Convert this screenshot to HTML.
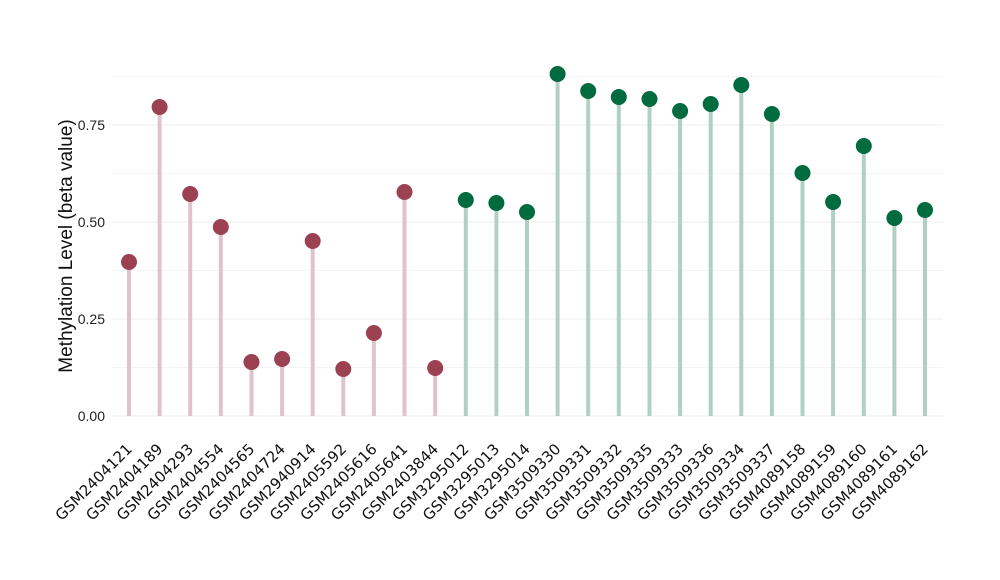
<!DOCTYPE html>
<html><head><style>body{margin:0;background:#fff}svg{display:block}</style></head>
<body>
<svg width="1000" height="580" xmlns="http://www.w3.org/2000/svg" font-family="Liberation Sans, DejaVu Sans, sans-serif">
<g stroke="#ececec" stroke-width="1">
<line x1="112" x2="943" y1="76.5" y2="76.5" stroke="#f4f4f4"/>
<line x1="112" x2="943" y1="125" y2="125"/>
<line x1="112" x2="943" y1="173.5" y2="173.5" stroke="#f4f4f4"/>
<line x1="112" x2="943" y1="222" y2="222"/>
<line x1="112" x2="943" y1="270.5" y2="270.5" stroke="#f4f4f4"/>
<line x1="112" x2="943" y1="319" y2="319"/>
<line x1="112" x2="943" y1="367.5" y2="367.5" stroke="#f4f4f4"/>
<line x1="112" x2="943" y1="416" y2="416"/>
</g>
<g font-size="14" fill="#222" text-anchor="end">
<text x="105" y="130">0.75</text>
<text x="105" y="227">0.50</text>
<text x="105" y="324">0.25</text>
<text x="105" y="421">0.00</text>
</g>
<text transform="translate(72,246) rotate(-90)" text-anchor="middle" font-size="19" fill="#111">Methylation Level (beta value)</text>
<g stroke="#dfc3cb" stroke-width="4">
<line x1="129" x2="129" y1="416" y2="262"/>
<line x1="159.6" x2="159.6" y1="416" y2="107"/>
<line x1="190.2" x2="190.2" y1="416" y2="194"/>
<line x1="220.8" x2="220.8" y1="416" y2="227"/>
<line x1="251.5" x2="251.5" y1="416" y2="362"/>
<line x1="282.1" x2="282.1" y1="416" y2="359"/>
<line x1="312.7" x2="312.7" y1="416" y2="241"/>
<line x1="343.3" x2="343.3" y1="416" y2="369"/>
<line x1="373.9" x2="373.9" y1="416" y2="333"/>
<line x1="404.5" x2="404.5" y1="416" y2="192"/>
<line x1="435.2" x2="435.2" y1="416" y2="368"/>
</g>
<g stroke="#b0d0c4" stroke-width="4">
<line x1="465.8" x2="465.8" y1="416" y2="200"/>
<line x1="496.4" x2="496.4" y1="416" y2="203"/>
<line x1="527" x2="527" y1="416" y2="212"/>
<line x1="557.6" x2="557.6" y1="416" y2="74"/>
<line x1="588.2" x2="588.2" y1="416" y2="91"/>
<line x1="618.8" x2="618.8" y1="416" y2="97"/>
<line x1="649.5" x2="649.5" y1="416" y2="99"/>
<line x1="680.1" x2="680.1" y1="416" y2="111"/>
<line x1="710.7" x2="710.7" y1="416" y2="104"/>
<line x1="741.3" x2="741.3" y1="416" y2="85"/>
<line x1="771.9" x2="771.9" y1="416" y2="114"/>
<line x1="802.5" x2="802.5" y1="416" y2="173"/>
<line x1="833.1" x2="833.1" y1="416" y2="202"/>
<line x1="863.8" x2="863.8" y1="416" y2="146"/>
<line x1="894.4" x2="894.4" y1="416" y2="218"/>
<line x1="925" x2="925" y1="416" y2="210"/>
</g>
<g fill="#9b4152">
<circle cx="129" cy="262" r="8"/>
<circle cx="159.6" cy="107" r="8"/>
<circle cx="190.2" cy="194" r="8"/>
<circle cx="220.8" cy="227" r="8"/>
<circle cx="251.5" cy="362" r="8"/>
<circle cx="282.1" cy="359" r="8"/>
<circle cx="312.7" cy="241" r="8"/>
<circle cx="343.3" cy="369" r="8"/>
<circle cx="373.9" cy="333" r="8"/>
<circle cx="404.5" cy="192" r="8"/>
<circle cx="435.2" cy="368" r="8"/>
</g>
<g fill="#006b3e">
<circle cx="465.8" cy="200" r="8"/>
<circle cx="496.4" cy="203" r="8"/>
<circle cx="527" cy="212" r="8"/>
<circle cx="557.6" cy="74" r="8"/>
<circle cx="588.2" cy="91" r="8"/>
<circle cx="618.8" cy="97" r="8"/>
<circle cx="649.5" cy="99" r="8"/>
<circle cx="680.1" cy="111" r="8"/>
<circle cx="710.7" cy="104" r="8"/>
<circle cx="741.3" cy="85" r="8"/>
<circle cx="771.9" cy="114" r="8"/>
<circle cx="802.5" cy="173" r="8"/>
<circle cx="833.1" cy="202" r="8"/>
<circle cx="863.8" cy="146" r="8"/>
<circle cx="894.4" cy="218" r="8"/>
<circle cx="925" cy="210" r="8"/>
</g>
<g font-size="15" fill="#111" text-anchor="end" font-family="DejaVu Sans, sans-serif">
<text transform="translate(133,450) rotate(-45)">GSM2404121</text>
<text transform="translate(163.6,450) rotate(-45)">GSM2404189</text>
<text transform="translate(194.2,450) rotate(-45)">GSM2404293</text>
<text transform="translate(224.8,450) rotate(-45)">GSM2404554</text>
<text transform="translate(255.5,450) rotate(-45)">GSM2404565</text>
<text transform="translate(286.1,450) rotate(-45)">GSM2404724</text>
<text transform="translate(316.7,450) rotate(-45)">GSM2940914</text>
<text transform="translate(347.3,450) rotate(-45)">GSM2405592</text>
<text transform="translate(377.9,450) rotate(-45)">GSM2405616</text>
<text transform="translate(408.5,450) rotate(-45)">GSM2405641</text>
<text transform="translate(439.2,450) rotate(-45)">GSM2403844</text>
<text transform="translate(469.8,450) rotate(-45)">GSM3295012</text>
<text transform="translate(500.4,450) rotate(-45)">GSM3295013</text>
<text transform="translate(531,450) rotate(-45)">GSM3295014</text>
<text transform="translate(561.6,450) rotate(-45)">GSM3509330</text>
<text transform="translate(592.2,450) rotate(-45)">GSM3509331</text>
<text transform="translate(622.8,450) rotate(-45)">GSM3509332</text>
<text transform="translate(653.5,450) rotate(-45)">GSM3509335</text>
<text transform="translate(684.1,450) rotate(-45)">GSM3509333</text>
<text transform="translate(714.7,450) rotate(-45)">GSM3509336</text>
<text transform="translate(745.3,450) rotate(-45)">GSM3509334</text>
<text transform="translate(775.9,450) rotate(-45)">GSM3509337</text>
<text transform="translate(806.5,450) rotate(-45)">GSM4089158</text>
<text transform="translate(837.1,450) rotate(-45)">GSM4089159</text>
<text transform="translate(867.8,450) rotate(-45)">GSM4089160</text>
<text transform="translate(898.4,450) rotate(-45)">GSM4089161</text>
<text transform="translate(929,450) rotate(-45)">GSM4089162</text>
</g>
</svg>
</body></html>
